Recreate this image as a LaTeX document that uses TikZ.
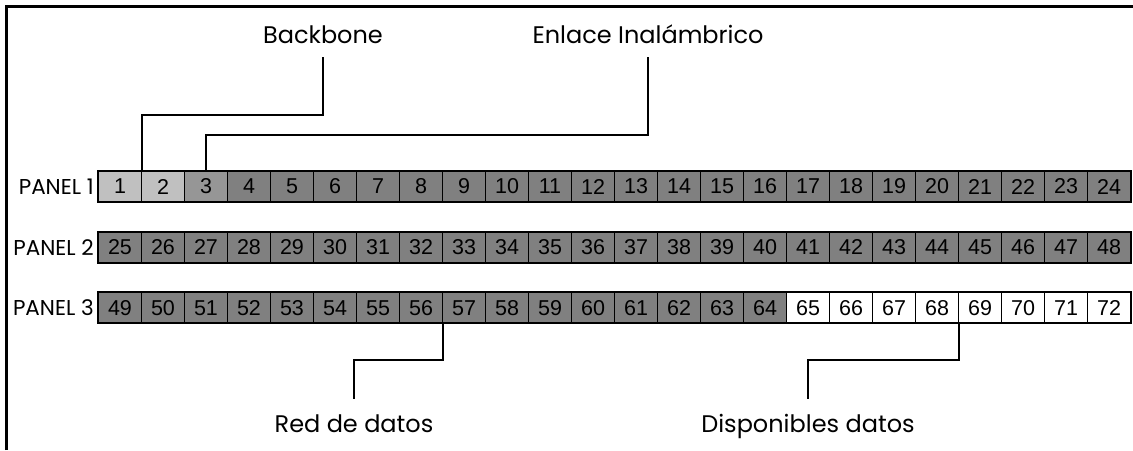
\documentclass[tikz,border=0pt]{standalone}
\usepackage{fontspec}
\setmainfont{Liberation Sans}
\newfontfamily\gothic{Poppins}
\definecolor{cellA}{HTML}{C0C0C0}
\definecolor{cellB}{HTML}{969696}
\definecolor{cellC}{HTML}{808080}
\begin{document}
\begin{tikzpicture}[x=1pt,y=-1pt,
  cellbox/.style={draw, line width=1pt, minimum width=43pt, minimum height=30pt,
    inner sep=0pt, anchor=north west, font=\fontsize{21.5}{21.5}\selectfont},
  rowframe/.style={draw, line width=2pt},
  panellabel/.style={anchor=east, inner sep=0pt, font=\gothic\fontsize{21.5}{21.5}\selectfont},
  calllabel/.style={anchor=base, inner sep=0pt, font=\gothic\fontsize{24}{24}\selectfont},
  callline/.style={draw, line width=1.5pt}]
\useasboundingbox (0,0) rectangle (1133,450);
% frame
\draw[line width=3pt] (6.5,450) -- (6.5,6.5) -- (1133,6.5);
% cells
\foreach \i in {1,...,72}{
  \pgfmathtruncatemacro\r{(\i-1)/24}
  \pgfmathtruncatemacro\c{mod(\i-1,24)}
  \ifnum\i<3 \def\fc{cellA}\else\ifnum\i=3 \def\fc{cellB}\else\ifnum\i>64 \def\fc{white}\else\def\fc{cellC}\fi\fi\fi
  \node[cellbox, fill=\fc] (c\i) at ({98+43*\c},{171+60.7*\r}) {\i};
}
\draw[rowframe] (c1.north west) rectangle (c24.south east);
\draw[rowframe] (c25.north west) rectangle (c48.south east);
\draw[rowframe] (c49.north west) rectangle (c72.south east);
% panel labels
\node[panellabel] (p1) at ([xshift=-4pt]c1.west) {PANEL 1};
\node[panellabel] (p2) at ([xshift=-4pt]c25.west) {PANEL 2};
\node[panellabel] (p3) at ([xshift=-4pt]c49.west) {PANEL 3};
% callout labels
\node[calllabel] (bb) at (323,43) {Backbone};
\node[calllabel] (en) at (648,43) {Enlace Inalámbrico};
\node[calllabel] (rd) at (354,432) {Red de datos};
\node[calllabel] (dd) at (808,432) {Disponibles datos};
% joints
\coordinate (bbj) at (323,115);
\coordinate (enj) at (648,135);
\coordinate (rdj) at (354,360);
\coordinate (ddj) at (808,360);
% connectors
\path[callline] (c1.north east) |- (bbj) -- ([yshift=-14pt]bb.base);
\path[callline] (c3.north) |- (enj) -- ([yshift=-14pt]en.base);
\path[callline] (c56.south east) |- (rdj) -- ([yshift=-39pt]rdj);
\path[callline] (c68.south east) |- (ddj) -- ([yshift=-39pt]ddj);
\end{tikzpicture}
\end{document}
